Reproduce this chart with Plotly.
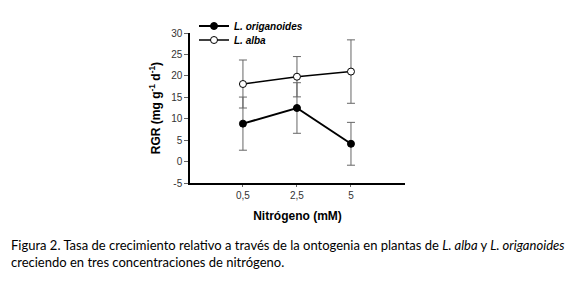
import plotly.graph_objects as go

categories = ["0,5", "2,5", "5"]
origanoides = [8.85, 12.5, 4.15]
origanoides_err = [6.2, 5.9, 5.0]
alba = [18.1, 19.8, 21.0]
alba_err = [5.6, 4.7, 7.4]
y_ticks = [-5, 0, 5, 10, 15, 20, 25, 30]
y_tick_labels = ["-5", "0", "5", "10", "15", "20", "25", "30"]

OFF = 8  # page body margin
W, H = 573 - OFF, 282 - OFF
L, T = 190 - OFF, 33 - OFF
PW, PH = 215, 150
R, B = W - L - PW, H - T - PH
SANS = '"Liberation Sans", Arial, sans-serif'


def px_x(page_x):
    return (page_x - OFF - L) / PW


def px_y(page_y):
    return (T + PH - (page_y - OFF)) / PH


fig = go.Figure()
fig.add_trace(go.Scatter(
    x=categories, y=origanoides, name="<b><i>L. origanoides</i></b>",
    mode="lines+markers", legend="legend",
    line=dict(color="black", width=2),
    marker=dict(symbol="circle", size=7, color="black", line=dict(color="black", width=1)),
    error_y=dict(type="data", array=origanoides_err, color="#666666", thickness=1, width=4),
))
fig.add_trace(go.Scatter(
    x=categories, y=alba, name="<b><i>L. alba</i></b>",
    mode="lines+markers", legend="legend2",
    line=dict(color="black", width=1.5),
    marker=dict(symbol="circle", size=7, color="white", line=dict(color="black", width=1)),
    error_y=dict(type="data", array=alba_err, color="#666666", thickness=1, width=4),
))

legfont = dict(family=SANS, size=10, color="black")


def leg(page_y):
    return dict(
        x=px_x(194), y=px_y(page_y),
        xanchor="left", yanchor="middle",
        font=legfont, bgcolor="rgba(0,0,0,0)", itemwidth=30,
    )


tickfont = dict(family=SANS, size=10, color="#333333")
fig.update_layout(
    width=W, height=H,
    margin=dict(l=L, r=R, t=T, b=B, pad=0, autoexpand=False),
    paper_bgcolor="white", plot_bgcolor="white",
    showlegend=True,
    legend=leg(26),
    legend2=leg(40),
    xaxis=dict(
        type="category", range=[-0.98, 3.0],
        showline=True, linecolor="black", linewidth=1.5,
        ticks="outside", ticklen=2, tickcolor="#666666",
        showgrid=False, zeroline=False, tickfont=tickfont,
        title=dict(text="<b>Nitrógeno (mM)</b>", font=dict(family=SANS, size=12, color="black"), standoff=12),
    ),
    yaxis=dict(
        range=[-5, 30], tickvals=y_ticks, ticktext=y_tick_labels,
        showline=True, linecolor="black", linewidth=1.5,
        ticks="outside", ticklen=4, tickcolor="#666666",
        showgrid=False, zeroline=False, tickfont=tickfont,
        title=dict(text="<b>RGR (mg g<sup>-1</sup> d<sup>-1</sup>)</b>", font=dict(family=SANS, size=12, color="black"), standoff=8),
    ),
)

capfont = dict(family="Lato, 'Open Sans', sans-serif", size=13, color="black")
fig.add_annotation(
    xref="paper", yref="paper", x=px_x(9), y=px_y(245),
    xanchor="left", yanchor="middle", showarrow=False, align="left",
    text="Figura 2. Tasa de crecimiento relativo a través de la ontogenia en plantas de <i>L. alba</i> y <i>L. origanoides</i>",
    font=capfont,
)
fig.add_annotation(
    xref="paper", yref="paper", x=px_x(9), y=px_y(262),
    xanchor="left", yanchor="middle", showarrow=False, align="left",
    text="creciendo en tres concentraciones de nitrógeno.",
    font=capfont,
)

fig.write_html("out.html")
